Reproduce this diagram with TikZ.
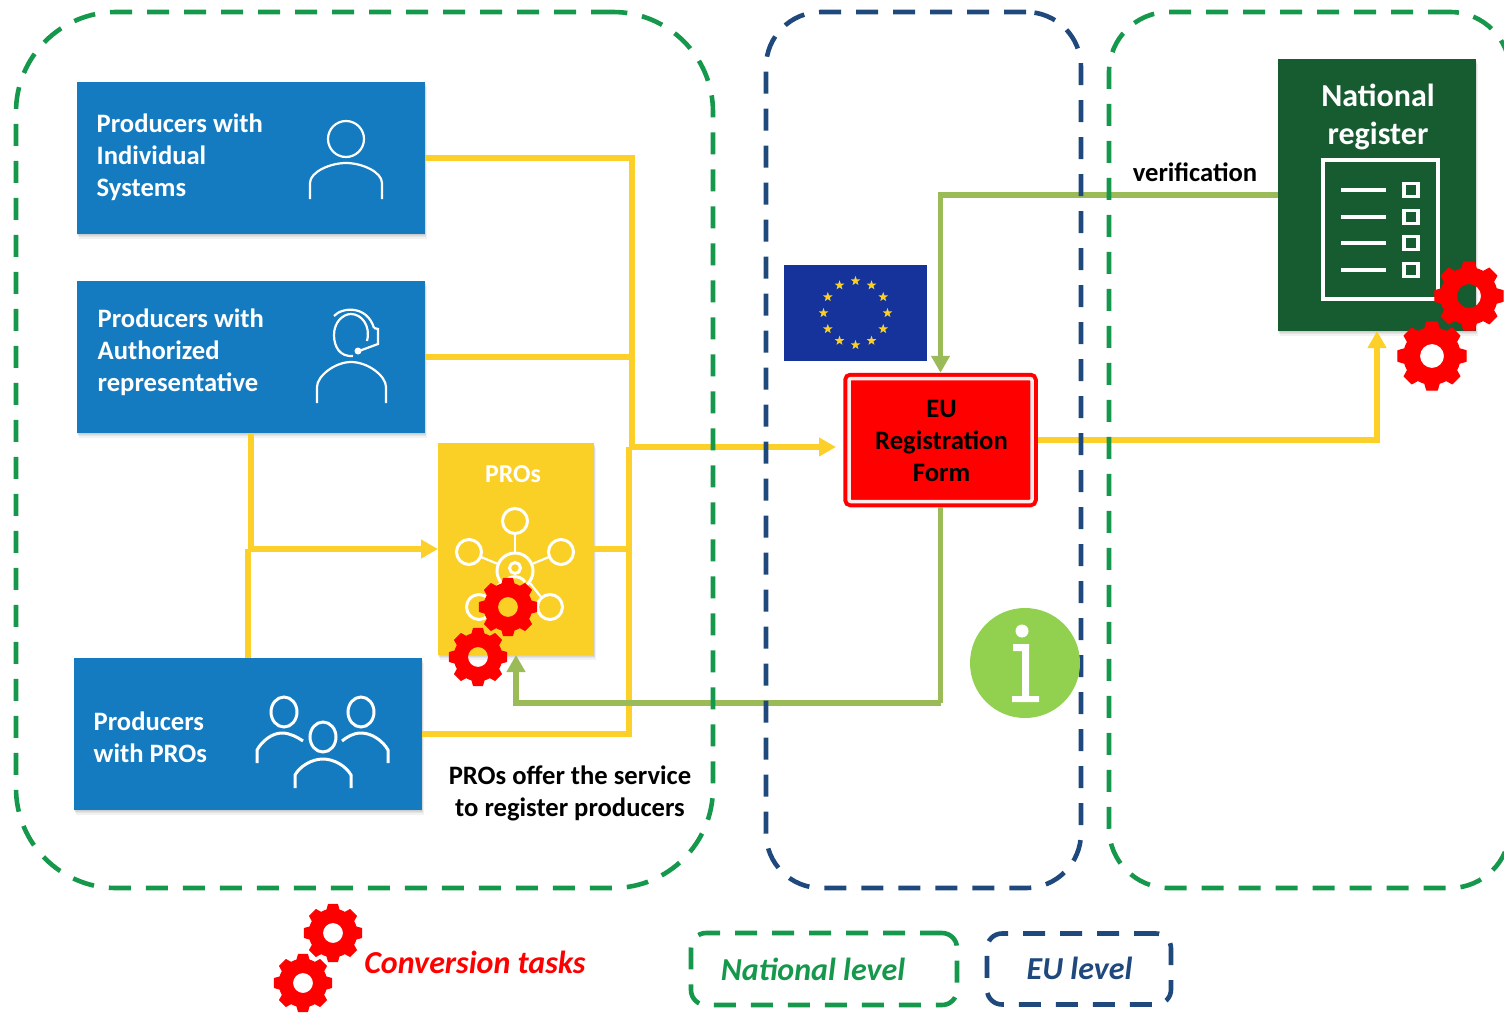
\documentclass[tikz,border=0pt]{standalone}
\usepackage{fontspec}
\setmainfont{Carlito}
\usepackage{tikz}
\usetikzlibrary{arrows.meta,calc,shadows,shapes.geometric}

\definecolor{boxblue}{RGB}{21,123,192}
\definecolor{prosyellow}{RGB}{251,208,38}
\definecolor{lineyellow}{RGB}{252,208,40}
\definecolor{linegreen}{RGB}{155,187,89}
\definecolor{regdark}{RGB}{23,91,48}
\definecolor{zonegreen}{RGB}{22,152,76}
\definecolor{zonenavy}{RGB}{31,73,125}
\definecolor{flagblue}{RGB}{21,51,154}
\definecolor{infogreen}{RGB}{146,208,80}

\tikzset{
    softshadow/.style={
        drop shadow={shadow xshift=0pt, shadow yshift=-1pt, opacity=.12},
        drop shadow={shadow xshift=.5pt, shadow yshift=-2pt, opacity=.12},
        drop shadow={shadow xshift=1pt, shadow yshift=-3pt, opacity=.12},
        drop shadow={shadow xshift=1.5pt, shadow yshift=-4.5pt, opacity=.1}},
    tilebox/.style={rectangle, inner sep=0pt, outer sep=0pt, minimum width=#1, softshadow},
    bluebox/.style={tilebox=348pt, minimum height=152pt, fill=boxblue},
    tilelabel/.style={anchor=west, align=left, text=white, font=\fontsize{26.6}{32}\selectfont\bfseries, inner sep=0pt},
    plainlabel/.style={align=center, font=\fontsize{26.6}{32}\selectfont\bfseries, inner sep=0pt},
    legendlabel/.style={inner sep=0pt, font=\fontsize{32}{36}\selectfont\bfseries\itshape},
    yellowline/.style={draw=lineyellow, line width=5.2pt},
    greenline/.style={draw=linegreen, line width=5.2pt},
    headarrow/.style={-{Triangle[length=17pt,width=18pt]}},
    iconline/.style={draw=white, line width=2.2pt},
    dashzone/.style={rectangle, draw=#1, line width=4.6pt, dash pattern=on 22pt off 15pt, inner sep=0pt},
    flagstar/.style={star, star points=5, star point ratio=2.4, fill=prosyellow, inner sep=0pt, minimum size=10pt}
}

\begin{document}
\begin{tikzpicture}[x=1pt,y=-1pt]
    \useasboundingbox (0,0) rectangle (1504,1012);

    % boxes
    \node[bluebox] (indiv) at (251,158) {};
    \node[bluebox] (authrep) at (251,357) {};
    \node[bluebox] (withpros) at (248,734) {};
    \node[tilebox=156pt, minimum height=212pt, fill=prosyellow] (pros) at (516,549) {};
    \node[tilebox=198pt, minimum height=272pt, fill=regdark] (natreg) at (1377,195) {};
    \node[rectangle, fill=red, draw=red, line width=4pt, double=red!8, double distance=3.5pt,
        rounded corners=2pt, inner sep=0pt, outer sep=5.7pt, minimum width=183pt, minimum height=123pt] (regform) at (940.5,440) {};
    \node[rectangle, fill=flagblue, inner sep=0pt, minimum width=143pt, minimum height=96pt] (euflag) at (855.5,313) {};

    % box texts
    \node[tilelabel] (indivtext) at (96.5,157) {Producers with\\Individual\\Systems};
    \node[tilelabel] (authtext) at (97.5,352) {Producers with\\Authorized\\representative};
    \node[tilelabel] (withtext) at (93.5,737) {Producers\\with PROs};
    \node[plainlabel, text=white, font=\fontsize{25.8}{30}\selectfont\bfseries] (prostext) at (513,474.5) {PROs};
    \node[plainlabel, text=white, font=\fontsize{32}{38}\selectfont\bfseries] (regtext) at (1378,117) {National\\register};
    \node[plainlabel] (formtext) at (941.5,441) {EU\\Registration\\Form};
    \node[plainlabel] (verif) at (1195,172) {verification};
    \node[plainlabel] (offer) at (570,793) {PROs offer the service\\to register producers};

    % yellow connectors
    \coordinate (busA) at (632,447);
    \coordinate (busB) at (629,447);
    \coordinate (forminlet) at (836,447);
    \coordinate (splitA) at (251,549);
    \coordinate (splitB) at (248,549);
    \draw[yellowline] (indiv.east) -| (busA);
    \draw[yellowline] (authrep.east) -- (authrep.east -| busA);
    \draw[yellowline] (withpros.east) -| (busB);
    \draw[yellowline, headarrow] (busB) -- (forminlet);
    \draw[yellowline] (pros.east) -- (pros.east -| busB);
    \draw[yellowline] (authrep.south) -- (splitA);
    \draw[yellowline] (withpros.north) -- (splitB);
    \draw[yellowline, headarrow] (splitB) -- (pros.west);
    \draw[yellowline, headarrow] (regform.east) -| (natreg.south);

    % green connectors
    \draw[greenline, headarrow] (natreg.west) -| (regform.north);
    \coordinate (backturn) at (940.5,703);
    \draw[greenline] (regform.south) -- (backturn);
    \draw[greenline, headarrow] (backturn) -| (pros.south);

    % zones
    \node[dashzone=zonegreen, rounded corners=100pt, minimum width=697pt, minimum height=876pt] (natzoneA) at (364.5,450) {};
    \node[dashzone=zonenavy, rounded corners=55pt, minimum width=315pt, minimum height=876pt] (euzone) at (923.5,450) {};
    \node[dashzone=zonegreen, rounded corners=60pt, minimum width=401pt, minimum height=876pt] (natzoneB) at (1309.5,450) {};
    \node[dashzone=zonegreen, rounded corners=15pt, minimum width=266pt, minimum height=72pt] (natlegend) at (824,969) {};
    \node[dashzone=zonenavy, rounded corners=15pt, minimum width=184pt, minimum height=71pt] (eulegend) at (1079,969) {};
    \node[legendlabel, text=zonegreen] (natlegendtext) at (813,969) {National level};
    \node[legendlabel, text=zonenavy] (eulegendtext) at (1079.5,968) {EU level};
    \node[legendlabel, text=red] (convtext) at (475,962) {Conversion tasks};

    % flag
    \foreach \a in {0,30,...,330}
        \node[flagstar] (star\a) at ($(euflag.center)+(\a:32)$) {};

    % icon of one person
    \draw[iconline] (346,139) circle (18);
    \draw[iconline] (310,199) -- (310,183) .. controls (310,172) and (330,163) .. (346,163) .. controls (362,163) and (382,172) .. (382,183) -- (382,199);

    % icon of the headset
    \draw[iconline] (317,403) -- (317,387) .. controls (317,376) and (335,362) .. (351,362) .. controls (368,362) and (386,376) .. (386,387) -- (386,403);
    \draw[iconline] (353,356) .. controls (340,357) and (334,347) .. (334,335) .. controls (334,322) and (343,314) .. (351,314) .. controls (361,314) and (371,325) .. (367,341);
    \draw[iconline] (334,316) .. controls (342,307) and (367,305) .. (374,328);
    \draw[iconline] (374,328) -- (378,329) -- (378,344) -- (359,351);
    \fill[white] (358,351) circle (3.5);

    % icon of the group
    \foreach \hx/\hy in {284/712,361/712,323/737}
        \draw[iconline, line width=3pt] (\hx,\hy) ellipse (13 and 15);
    \draw[iconline, line width=3pt] (257,763) -- (257,750) .. controls (262,741) and (272,733) .. (282,733) .. controls (290,733) and (297,737) .. (303,741);
    \draw[iconline, line width=3pt] (388,763) -- (388,750) .. controls (383,741) and (372,733) .. (361,733) .. controls (353,733) and (347,737) .. (342,741);
    \draw[iconline, line width=3pt] (295,788) -- (295,775) .. controls (300,766) and (312,759) .. (323,759) .. controls (334,759) and (346,766) .. (351,775) -- (351,788);

    % icon of the network
    \foreach \cx/\cy in {515/521,469/552,561/552,479/607,550/607}
        \draw[iconline, line width=3pt] (\cx,\cy) circle (12.5);
    \draw[iconline, line width=3pt] (515,571) circle (18);
    \draw[iconline, line width=3pt] (515,568) circle (5.5);
    \draw[iconline, line width=3pt] (505,582) .. controls (509,575) and (521,575) .. (525,582);
    \draw[iconline] (515,534) -- (515,553);
    \draw[iconline] (481,557) -- (498,564);
    \draw[iconline] (549,557) -- (532,564);
    \draw[iconline] (530,583) -- (541,597);
    \draw[iconline] (500,583) -- (489,597);

    % icon of the register
    \draw[draw=white, line width=3.5pt] (1323,160) rectangle (1438,299);
    \foreach \ly in {190,217,243,270} {
        \draw[draw=white, line width=3.2pt] (1341,\ly) -- (1386,\ly);
        \draw[draw=white, line width=3.5pt] (1404,\ly-6.5) rectangle (1418,\ly+6.5);
    }

    % info sign
    \fill[infogreen] (1025,663) circle (55);
    \fill[white] (1022,631) circle (6.5);
    \fill[white] (1013,644) -- (1029,644) -- (1029,696) -- (1039,696) -- (1039,702) -- (1012,702) -- (1012,696) -- (1022,696) -- (1022,651) -- (1013,651) -- cycle;

    % gears
    \foreach \gx/\gy/\gr/\gh in {1469/296/34.5/12.5,1432/356/34.5/12.5,508/607/29/10.5,478/657/29/10.5,333/933/29/10.5,303/983/29/10.5} {
        \begin{scope}[shift={(\gx,\gy)}]
            \filldraw[red, line width=1pt, line join=round, even odd rule] (-22.5:{\gr*.82})
                \foreach \a in {0,45,...,315} {
                    -- ({\a-15}:{\gr*.82}) -- ({\a-9}:\gr) -- ({\a+9}:\gr) -- ({\a+15}:{\gr*.82}) -- ({\a+22.5}:{\gr*.82})
                } -- cycle (0,0) circle (\gh);
        \end{scope}
    }
\end{tikzpicture}
\end{document}
